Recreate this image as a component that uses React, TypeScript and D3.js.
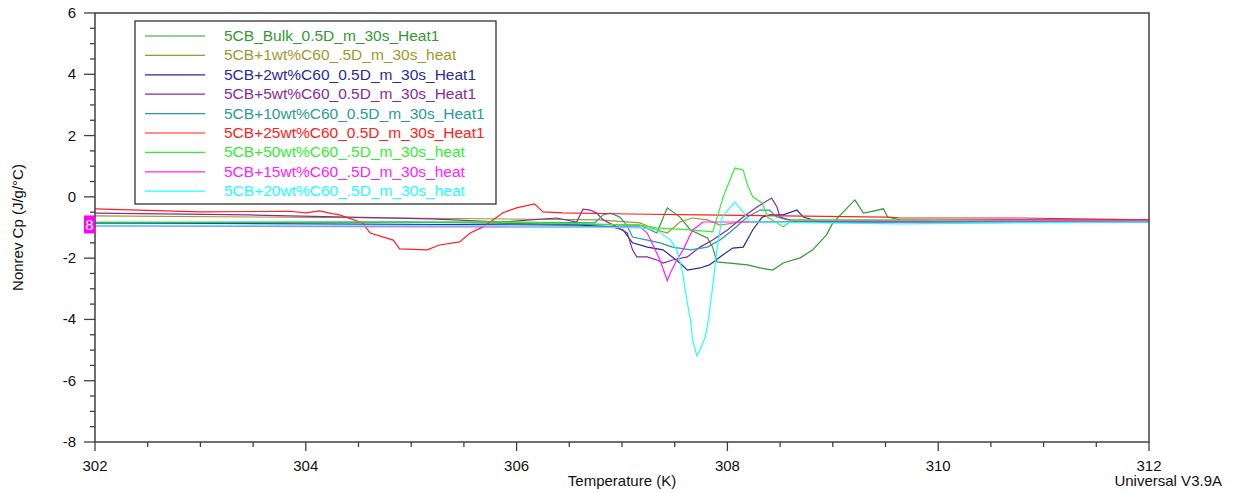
import React, { useEffect, useRef } from 'react';
import * as d3 from 'd3';

// series names, in legend order
const seriesNames = [
  '5CB_Bulk_0.5D_m_30s_Heat1',
  '5CB+1wt%C60_.5D_m_30s_heat',
  '5CB+2wt%C60_0.5D_m_30s_Heat1',
  '5CB+5wt%C60_0.5D_m_30s_Heat1',
  '5CB+10wt%C60_0.5D_m_30s_Heat1',
  '5CB+25wt%C60_0.5D_m_30s_Heat1',
  '5CB+50wt%C60_.5D_m_30s_heat',
  '5CB+15wt%C60_.5D_m_30s_heat',
  '5CB+20wt%C60_.5D_m_30s_heat',
];

const seriesColors = ['#339933', '#a0982a', '#2a2a99', '#8a2a9a', '#2a9a9a', '#ff2020', '#33ee33', '#ff22ff', '#22ffff'];

// [temperature K, nonrev Cp J/g/°C]
const bulk = [
  [302, -0.85], [304.89, -0.82], [307.17, -0.92], [307.33, -1.18], [307.43, -0.36], [307.55, -0.66],
  [307.65, -1.08], [307.81, -1.34], [307.86, -1.64], [307.9, -2.12], [308.02, -2.16], [308.19, -2.22],
  [308.31, -2.32], [308.43, -2.39], [308.53, -2.16], [308.69, -1.99], [308.81, -1.73], [308.94, -1.24],
  [309.0, -0.85], [309.1, -0.49], [309.21, -0.1], [309.29, -0.53], [309.35, -0.49], [309.48, -0.39],
  [309.52, -0.66], [309.64, -0.75], [312, -0.79],
];
const wt1 = [
  [302, -0.62], [304.89, -0.69], [306.79, -0.75], [307.17, -0.85], [307.33, -1.08], [307.43, -1.18],
  [307.55, -0.82], [307.67, -0.69], [307.81, -0.75], [307.93, -0.92], [308.12, -0.82], [312, -0.79],
];
const wt2 = [
  [302, -0.85], [306.6, -0.92], [306.91, -0.98], [307.01, -1.08], [307.1, -1.5], [307.24, -1.64],
  [307.39, -1.73], [307.55, -2.16], [307.62, -2.39], [307.74, -2.32], [307.83, -2.22], [307.93, -1.96],
  [308.05, -1.67], [308.15, -1.64], [308.24, -1.08], [308.33, -0.66], [308.4, -0.59], [308.53, -0.59],
  [308.66, -0.43], [308.72, -0.66], [308.88, -0.82], [312, -0.82],
];
const wt5 = [
  [302, -0.53], [303.47, -0.59], [305.18, -0.72], [305.87, -0.82], [306.38, -0.69], [306.57, -0.82],
  [306.63, -0.4], [306.7, -0.43], [306.76, -0.53], [306.82, -0.75], [306.95, -0.98], [307.05, -1.18],
  [307.1, -1.73], [307.14, -1.96], [307.24, -1.96], [307.33, -2.06], [307.39, -2.16], [307.48, -2.06],
  [307.62, -1.96], [307.74, -1.64], [307.86, -1.41], [308.0, -1.08], [308.15, -0.66], [308.28, -0.33],
  [308.42, -0.04], [308.47, -0.33], [308.5, -0.66], [308.66, -0.82], [310.59, -0.75], [312, -0.75],
];
const wt10 = [
  [302, -0.85], [305.84, -0.82], [306.74, -0.85], [306.82, -0.59], [306.89, -0.53], [306.98, -0.66],
  [307.05, -0.95], [307.1, -1.31], [307.24, -1.41], [307.36, -1.5], [307.48, -1.64], [307.65, -1.73],
  [307.81, -1.64], [307.93, -1.41], [308.05, -1.08], [308.19, -0.66], [308.31, -0.43], [308.4, -0.43],
  [308.47, -0.66], [308.57, -0.75], [312, -0.79],
];
const wt25 = [
  [302, -0.39], [303.0, -0.49], [303.85, -0.47], [304.0, -0.52], [304.13, -0.46], [304.25, -0.55],
  [304.32, -0.59], [304.54, -0.85], [304.61, -1.18], [304.83, -1.41], [304.89, -1.7], [305.15, -1.73],
  [305.27, -1.57], [305.46, -1.47], [305.56, -1.18], [305.68, -0.98], [305.75, -0.82], [305.87, -0.52],
  [306.0, -0.36], [306.17, -0.23], [306.25, -0.49], [306.44, -0.52], [307.08, -0.56], [307.74, -0.59],
  [309.52, -0.66], [309.64, -0.69], [310.78, -0.69], [312, -0.75],
];
const wt50 = [
  [302, -0.82], [305.84, -0.82], [307.17, -0.92], [307.33, -1.01], [307.65, -1.08], [307.86, -1.14],
  [307.91, -0.59], [307.96, 0.0], [308.07, 0.94], [308.15, 0.88], [308.19, 0.39], [308.24, 0.0],
  [308.33, -0.2], [308.38, -0.66], [308.53, -0.98], [308.62, -0.75], [312, -0.79],
];
const wt15 = [
  [302, -0.95], [305.84, -0.98], [307.17, -0.98], [307.24, -1.18], [307.36, -2.06], [307.43, -2.74],
  [307.46, -2.48], [307.52, -2.06], [307.58, -1.73], [307.67, -1.08], [307.77, -0.82], [307.93, -0.82],
  [308.66, -0.82], [312, -0.79],
];
const wt20 = [
  [302, -0.95], [305.84, -0.95], [307.17, -1.01], [307.33, -1.08], [307.46, -1.41], [307.52, -1.73],
  [307.57, -2.38], [307.62, -3.46], [307.65, -4.01], [307.67, -4.67], [307.71, -5.19], [307.74, -5.0],
  [307.79, -4.57], [307.82, -4.01], [307.86, -2.94], [307.9, -1.73], [307.95, -0.66], [308.07, -0.17],
  [308.15, -0.49], [308.21, -0.82], [309.64, -0.88], [312, -0.82],
];

const seriesData = [bulk, wt1, wt2, wt5, wt10, wt25, wt50, wt15, wt20];

const xTicks = [302, 304, 306, 308, 310, 312];
const yTicks = [6, 4, 2, 0, -2, -4, -6, -8];

const App = () => {
  const ref = useRef<SVGSVGElement>(null);

  useEffect(() => {
    const width = 1234, height = 493;
    const margin = { top: 13, left: 95, right: 85, bottom: 51 };
    const font = 'Liberation Sans, Arial, sans-serif';
    const axisColor = '#404040';

    const svg = d3.select(ref.current);
    svg.selectAll('*').remove();

    const x = d3.scaleLinear().domain([302, 312]).range([margin.left, width - margin.right]);
    const y = d3.scaleLinear().domain([-8, 6]).range([height - margin.bottom, margin.top]);

    // minor ticks every 0.5
    const xMinor = d3.range(302, 312.01, 0.5);
    const yMinor = d3.range(-8, 6.01, 0.5);

    svg.append('g').selectAll('line')
      .data(xMinor)
      .enter().append('line')
      .attr('x1', d => x(d)).attr('x2', d => x(d))
      .attr('y1', y(-8)).attr('y2', d => y(-8) + (xTicks.includes(d) ? 9 : 5))
      .attr('stroke', axisColor).attr('stroke-width', 1.3);

    svg.append('g').selectAll('line')
      .data(yMinor)
      .enter().append('line')
      .attr('y1', d => y(d)).attr('y2', d => y(d))
      .attr('x1', x(302)).attr('x2', d => x(302) - (yTicks.includes(d) ? 11 : 5))
      .attr('stroke', axisColor).attr('stroke-width', 1.3);

    // tick labels
    svg.append('g').selectAll('text')
      .data(xTicks)
      .enter().append('text')
      .attr('x', d => x(d)).attr('y', y(-8) + 29)
      .attr('text-anchor', 'middle')
      .attr('font-family', font).attr('font-size', 15).attr('fill', '#111')
      .text(d => d);

    svg.append('g').selectAll('text')
      .data(yTicks)
      .enter().append('text')
      .attr('x', x(302) - 19).attr('y', d => y(d) + 5)
      .attr('text-anchor', 'end')
      .attr('font-family', font).attr('font-size', 15).attr('fill', '#111')
      .text(d => d);

    // curves
    const line = d3.line<number[]>()
      .x(d => x(d[0]))
      .y(d => y(d[1]));

    const curves = svg.append('g');
    seriesData.forEach((s, i) => {
      curves.append('path')
        .attr('d', line(s))
        .attr('fill', 'none')
        .attr('stroke', seriesColors[i])
        .attr('stroke-width', 1.2);
    });

    // frame
    svg.append('rect')
      .attr('x', x(302)).attr('y', y(6))
      .attr('width', x(312) - x(302)).attr('height', y(-8) - y(6))
      .attr('fill', 'none').attr('stroke', axisColor).attr('stroke-width', 1.5);

    // cursor marker on the y axis
    svg.append('rect')
      .attr('x', x(302) - 11).attr('y', y(-0.9) - 9)
      .attr('width', 11).attr('height', 18)
      .attr('fill', '#ff00ff');
    svg.append('text')
      .attr('x', x(302) - 5.5).attr('y', y(-0.9) + 5.5)
      .attr('text-anchor', 'middle')
      .attr('font-family', font).attr('font-size', 15).attr('fill', '#fff')
      .text('8');

    // legend
    const legend = svg.append('g');
    legend.append('rect')
      .attr('x', 135).attr('y', 21).attr('width', 361).attr('height', 183)
      .attr('fill', '#fff').attr('stroke', '#222').attr('stroke-width', 1.2);

    seriesNames.forEach((name, i) => {
      const ly = 36 + i * 19.4;
      legend.append('line')
        .attr('x1', 145).attr('x2', 205).attr('y1', ly).attr('y2', ly)
        .attr('stroke', seriesColors[i]).attr('stroke-width', 1.2);
      legend.append('text')
        .attr('x', 224).attr('y', ly + 5)
        .attr('font-family', font).attr('font-size', 15.5)
        .attr('fill', seriesColors[i])
        .text(name);
    });

    // axis titles
    svg.append('text')
      .attr('x', (x(302) + x(312)) / 2).attr('y', 486)
      .attr('text-anchor', 'middle')
      .attr('font-family', font).attr('font-size', 15).attr('fill', '#111')
      .text('Temperature (K)');

    svg.append('text')
      .attr('x', 1222).attr('y', 486)
      .attr('text-anchor', 'end')
      .attr('font-family', font).attr('font-size', 15).attr('fill', '#111')
      .text('Universal V3.9A');

    svg.append('text')
      .attr('transform', 'translate(23,' + (y(6) + y(-8)) / 2 + ') rotate(-90)')
      .attr('text-anchor', 'middle')
      .attr('font-family', font).attr('font-size', 15).attr('fill', '#111')
      .text('Nonrev Cp (J/g/°C)');
  }, []);

  return (
    <svg ref={ref} width={1234} height={493}
      style={{ position: 'absolute', left: 0, top: 0, background: '#fff' }} />
  );
};

export default App;
